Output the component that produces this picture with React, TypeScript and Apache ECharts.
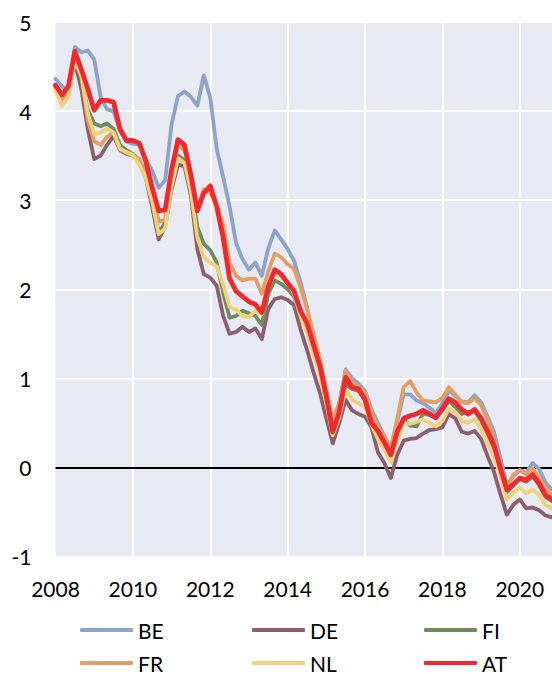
import React, { useEffect, useRef } from "react";
import * as echarts from "echarts";

// Bi-monthly observations (year-month)
const dates = [
  "2008-01", "2008-03", "2008-05", "2008-07", "2008-09", "2008-11",
  "2009-01", "2009-03", "2009-05", "2009-07", "2009-09", "2009-11",
  "2010-01", "2010-03", "2010-05", "2010-07", "2010-09", "2010-11",
  "2011-01", "2011-03", "2011-05", "2011-07", "2011-09", "2011-11",
  "2012-01", "2012-03", "2012-05", "2012-07", "2012-09", "2012-11",
  "2013-01", "2013-03", "2013-05", "2013-07", "2013-09", "2013-11",
  "2014-01", "2014-03", "2014-05", "2014-07", "2014-09", "2014-11",
  "2015-01", "2015-03", "2015-05", "2015-07", "2015-09", "2015-11",
  "2016-01", "2016-03", "2016-05", "2016-07", "2016-09", "2016-11",
  "2017-01", "2017-03", "2017-05", "2017-07", "2017-09", "2017-11",
  "2018-01", "2018-03", "2018-05", "2018-07", "2018-09", "2018-11",
  "2019-01", "2019-03", "2019-05", "2019-07", "2019-09", "2019-11",
  "2020-01", "2020-03", "2020-05", "2020-07", "2020-09", "2020-11",
];

const BE = [
  4.36, 4.28, 4.22, 4.72, 4.66, 4.68, 4.58, 4.16, 4.02, 4.0, 3.78, 3.66, 3.63,
  3.63, 3.46, 3.33, 3.14, 3.22, 3.85, 4.17, 4.22, 4.16, 4.06, 4.4, 4.15, 3.58,
  3.26, 2.93, 2.52, 2.34, 2.22, 2.3, 2.15, 2.46, 2.66, 2.56, 2.45, 2.32, 2.08,
  1.8, 1.45, 1.18, 0.85, 0.47, 0.72, 1.1, 1.0, 0.94, 0.86, 0.65, 0.5, 0.35,
  0.22, 0.52, 0.82, 0.82, 0.75, 0.72, 0.67, 0.61, 0.72, 0.86, 0.8, 0.74, 0.73,
  0.81, 0.73, 0.57, 0.4, 0.1, -0.2, -0.1, -0.03, -0.06, 0.05, -0.02, -0.17, -0.25,
];

const DE = [
  4.26, 4.12, 4.18, 4.55, 4.25, 3.8, 3.46, 3.5, 3.62, 3.72, 3.56, 3.52, 3.5,
  3.44, 3.25, 2.92, 2.56, 2.7, 3.12, 3.4, 3.38, 3.05, 2.45, 2.17, 2.13, 2.04,
  1.7, 1.5, 1.52, 1.58, 1.52, 1.56, 1.44, 1.78, 1.89, 1.91, 1.88, 1.82, 1.55,
  1.32, 1.07, 0.84, 0.55, 0.27, 0.5, 0.76, 0.64, 0.6, 0.57, 0.45, 0.17, 0.05,
  -0.12, 0.14, 0.3, 0.32, 0.33, 0.38, 0.42, 0.43, 0.45, 0.6, 0.55, 0.4, 0.38,
  0.41, 0.32, 0.13, -0.05, -0.3, -0.53, -0.42, -0.36, -0.46, -0.45, -0.48, -0.54, -0.56,
];

const FI = [
  4.28, 4.14, 4.22, 4.6, 4.35, 4.02, 3.86, 3.83, 3.86, 3.8, 3.62, 3.56, 3.52,
  3.45, 3.3, 3.05, 2.63, 2.75, 3.2, 3.5, 3.45, 3.15, 2.7, 2.51, 2.44, 2.3,
  1.96, 1.68, 1.7, 1.76, 1.73, 1.7, 1.6, 1.95, 2.1, 2.06, 2.0, 1.92, 1.7,
  1.55, 1.32, 1.08, 0.76, 0.38, 0.58, 0.93, 0.88, 0.86, 0.76, 0.56, 0.39, 0.25,
  0.11, 0.36, 0.54, 0.47, 0.46, 0.6, 0.59, 0.55, 0.64, 0.75, 0.68, 0.6, 0.62,
  0.63, 0.53, 0.38, 0.2, -0.04, -0.28, -0.2, -0.13, -0.16, -0.1, -0.2, -0.33, -0.38,
];

const FR = [
  4.26, 4.12, 4.22, 4.6, 4.42, 3.9, 3.66, 3.62, 3.71, 3.76, 3.57, 3.53, 3.5,
  3.46, 3.3, 3.1, 2.76, 2.78, 3.27, 3.63, 3.56, 3.3, 2.92, 3.12, 3.08, 2.95,
  2.72, 2.3, 2.15, 2.1, 2.12, 2.12, 1.95, 2.2, 2.4, 2.36, 2.28, 2.23, 2.02,
  1.78, 1.5, 1.22, 0.88, 0.53, 0.72, 1.08, 0.96, 0.9, 0.84, 0.62, 0.46, 0.35,
  0.2, 0.55, 0.9, 0.97, 0.84, 0.75, 0.74, 0.73, 0.78, 0.9, 0.82, 0.73, 0.72,
  0.78, 0.7, 0.53, 0.33, 0.02, -0.22, -0.08, -0.03, -0.08, -0.01, -0.12, -0.23, -0.31,
];

const NL = [
  4.24, 4.06, 4.16, 4.56, 4.4, 3.98, 3.74, 3.76, 3.8, 3.76, 3.58, 3.54, 3.51,
  3.4, 3.25, 2.98, 2.62, 2.68, 3.15, 3.47, 3.42, 3.1, 2.58, 2.37, 2.3, 2.26,
  2.05, 1.8, 1.77, 1.7, 1.69, 1.76, 1.72, 2.02, 2.18, 2.14, 2.08, 1.95, 1.7,
  1.52, 1.28, 1.04, 0.72, 0.36, 0.56, 0.88, 0.76, 0.72, 0.68, 0.48, 0.32, 0.2,
  0.06, 0.3, 0.5, 0.49, 0.51, 0.54, 0.5, 0.46, 0.52, 0.66, 0.62, 0.52, 0.5,
  0.54, 0.43, 0.28, 0.12, -0.1, -0.36, -0.28, -0.23, -0.29, -0.25, -0.31, -0.42, -0.46,
];

const AT = [
  4.29, 4.18, 4.28, 4.67, 4.47, 4.25, 4.01, 4.12, 4.12, 4.1, 3.8, 3.67, 3.67,
  3.64, 3.44, 3.14, 2.88, 2.89, 3.34, 3.68, 3.62, 3.28, 2.88, 3.08, 3.16, 2.93,
  2.58, 2.12, 1.98, 1.92, 1.86, 1.83, 1.74, 2.03, 2.22, 2.17, 2.07, 1.98, 1.76,
  1.62, 1.38, 1.14, 0.8, 0.4, 0.62, 1.01, 0.9, 0.88, 0.76, 0.5, 0.41, 0.28,
  0.14, 0.4, 0.55, 0.58, 0.6, 0.64, 0.6, 0.56, 0.66, 0.77, 0.73, 0.65, 0.6,
  0.65, 0.55, 0.41, 0.25, -0.01, -0.25, -0.19, -0.12, -0.14, -0.08, -0.18, -0.31, -0.36,
];

const xTickLabels = [2008, 2010, 2012, 2014, 2016, 2018, 2020];
const yTickLabels = [-1, 0, 1, 2, 3, 4, 5];

const seriesList: { name: string; data: number[]; color: string; width: number }[] = [
  { name: "BE", data: BE, color: "#8EA3C8", width: 3.8 },
  { name: "DE", data: DE, color: "#8C5E6E", width: 3.8 },
  { name: "FI", data: FI, color: "#6F8B61", width: 3.8 },
  { name: "FR", data: FR, color: "#E49E63", width: 3.8 },
  { name: "NL", data: NL, color: "#EDD17B", width: 3.8 },
  { name: "AT", data: AT, color: "#EE2A30", width: 4.8 },
];

const FONT = "Lato, 'DejaVu Sans', sans-serif";

function toYear(d: string): number {
  const [y, m] = d.split("-").map(Number);
  return y + (m - 1) / 12;
}

export default function App() {
  const ref = useRef<HTMLDivElement>(null);

  useEffect(() => {
    document.body.style.margin = "0";
    if (!ref.current) return;
    const chart = echarts.init(ref.current, undefined, { renderer: "svg" });
    const xs = dates.map(toYear);
    const legendText = {
      fontSize: 21,
      color: "#000",
      fontFamily: FONT,
      width: 60,
      lineHeight: 24,
    };
    const legendBase = {
      left: 80,
      padding: 0,
      width: 470,
      itemWidth: 53,
      itemHeight: 4,
      itemGap: 54,
      icon: "roundRect",
      textStyle: legendText,
      selectedMode: false,
    };
    chart.setOption({
      animation: false,
      backgroundColor: "#fff",
      grid: {
        left: 55.5,
        right: 0,
        top: 22,
        bottom: 117.5,
        show: true,
        backgroundColor: "#E7EAF2",
        borderWidth: 0,
      },
      legend: [
        { ...legendBase, top: 618, data: ["BE", "DE", "FI"] },
        { ...legendBase, top: 651, data: ["FR", "NL", "AT"] },
      ],
      xAxis: {
        type: "value",
        min: xTickLabels[0],
        max: toYear(dates[dates.length - 1]),
        interval: 2,
        axisLine: { show: false },
        axisTick: { show: false },
        splitLine: {
          show: true,
          showMinLine: false,
          showMaxLine: false,
          lineStyle: { color: "#fff", width: 2 },
        },
        axisLabel: {
          fontSize: 21,
          color: "#000",
          fontFamily: FONT,
          margin: 21,
          showMaxLabel: false,
          formatter: (v: number) => (xTickLabels.includes(Math.round(v * 1000) / 1000) ? String(v) : ""),
        },
      },
      yAxis: {
        type: "value",
        min: yTickLabels[0],
        max: yTickLabels[yTickLabels.length - 1],
        interval: 1,
        axisLine: { show: false },
        axisTick: { show: false },
        splitLine: { show: true, lineStyle: { color: "#fff", width: 2 } },
        axisLabel: {
          fontSize: 21,
          color: "#000",
          fontFamily: FONT,
          margin: 24,
        },
      },
      series: seriesList.map((s, idx) => ({
        name: s.name,
        type: "line",
        data: s.data.map((v, i) => [xs[i], v]),
        showSymbol: false,
        symbol: "none",
        smooth: false,
        color: s.color,
        itemStyle: { color: s.color },
        lineStyle: { color: s.color, width: s.width, cap: "round", join: "round" },
        z: 2 + idx * 0.01,
        ...(idx === 0
          ? {
              markLine: {
                silent: true,
                symbol: ["none", "none"],
                z: 1,
                label: { show: false },
                lineStyle: { color: "#000", width: 2, type: "solid" },
                data: [{ yAxis: 0 }],
              },
            }
          : {}),
      })),
    });
    return () => chart.dispose();
  }, []);

  return <div ref={ref} style={{ width: 552, height: 674 }} />;
}
